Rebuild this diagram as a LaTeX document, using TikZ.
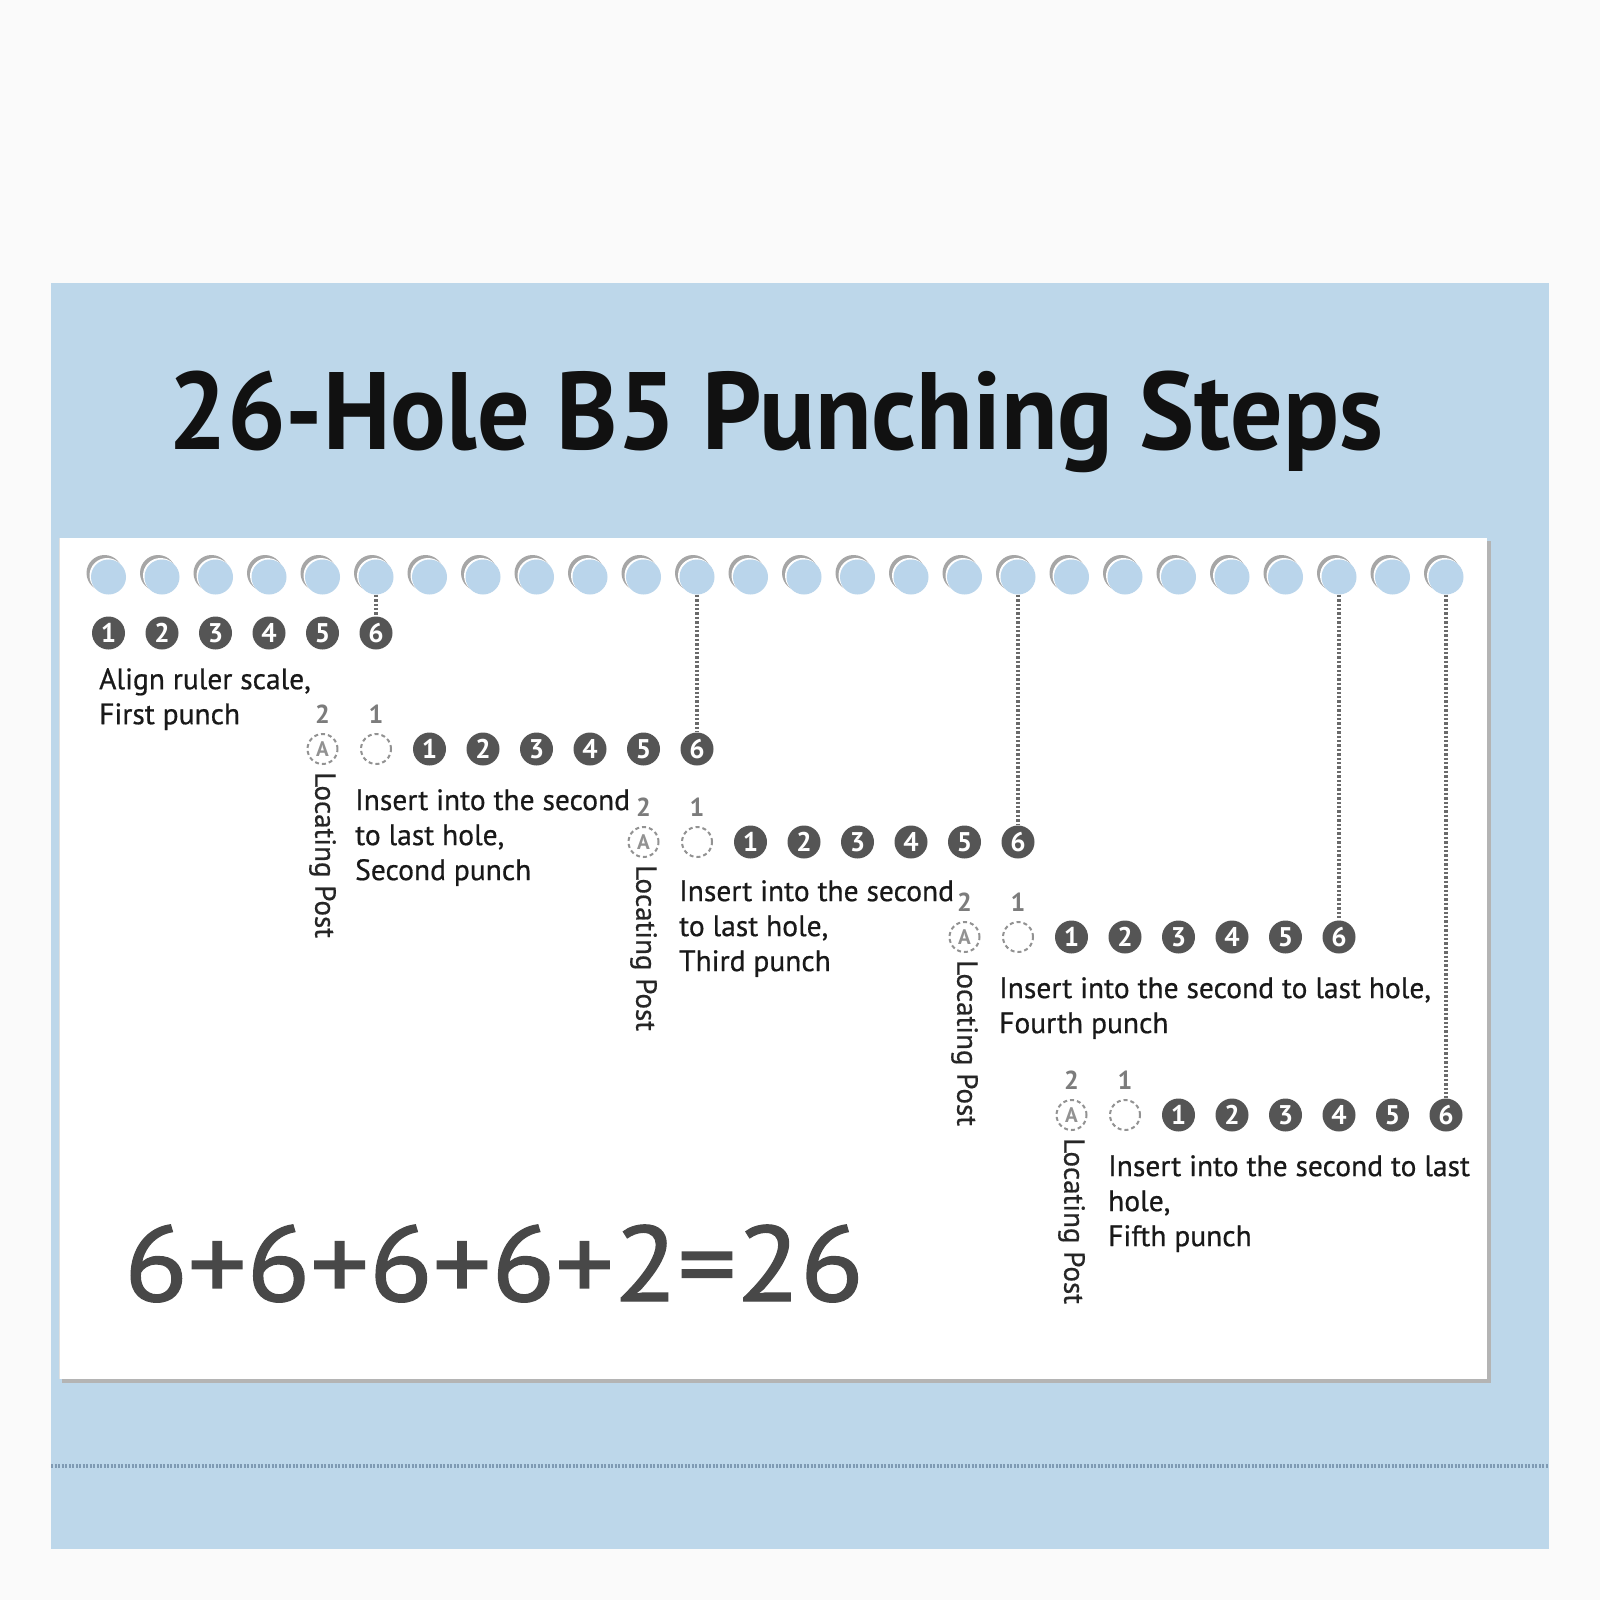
\documentclass[tikz,border=0pt]{standalone}
\usepackage{fontspec}
\setmainfont{PT Sans}
\newfontfamily\bodyfont[FakeBold=0.6]{PT Sans}
\newfontfamily\eqfont[FakeBold=1.2]{PT Sans}
\usetikzlibrary{calc}
\definecolor{pagebg}{HTML}{FAFAFA}
\definecolor{bgblue}{HTML}{BDD7EA}
\definecolor{holeblue}{HTML}{BAD5EB}
\definecolor{holeshadow}{HTML}{A6A6A6}
\definecolor{darkc}{HTML}{555555}
\definecolor{dashc}{HTML}{929292}
\definecolor{labc}{HTML}{7C7C7C}
\definecolor{eqc}{HTML}{484848}
\definecolor{cardshadow}{HTML}{B4B4B4}
\definecolor{dotc}{HTML}{6A6A6A}
\definecolor{bluedot}{HTML}{7F9AB3}
\definecolor{titlec}{HTML}{111111}
\begin{document}
\begin{tikzpicture}[x=1pt,y=-1pt,
  hole/.style={circle,fill=holeblue,minimum size=35pt,inner sep=0pt},
  numc/.style={circle,fill=darkc,text=white,minimum size=33pt,inner sep=0pt,font=\fontsize{27}{27}\selectfont\bfseries},
  postc/.style={circle,draw=dashc,dash pattern=on 4pt off 3pt,line width=2pt,minimum size=30pt,inner sep=0pt,text=dashc,font=\fontsize{21}{21}\selectfont\bfseries},
  ghostc/.style={circle,draw=dashc,dash pattern=on 4pt off 3pt,line width=2pt,minimum size=30pt,inner sep=0pt},
  lab/.style={inner sep=0pt,text=labc,font=\fontsize{26}{26}\selectfont\bfseries},
  postlab/.style={rotate=-90,anchor=west,inner sep=0pt,text=black!85,font=\fontsize{29}{29}\bodyfont},
  body/.style={anchor=north west,align=left,inner sep=0pt,text=black!90,font=\fontsize{29.5}{35}\bodyfont},
  dotline/.style={draw=dotc,line width=3.6pt,dash pattern=on 2.4pt off 2pt}
]
\useasboundingbox (0,0) rectangle (1600,1600);
\fill[pagebg] (0,0) rectangle (1600,1600);
% blue panel
\fill[bgblue] (51,283) rectangle (1549,1549);
\draw[bluedot,line width=3.4pt,dash pattern=on 2pt off 1.5pt] (51,1466) -- (1549,1466);
% card
\fill[cardshadow] (62,541) rectangle (1491,1383);
\fill[white] (59,538) rectangle (1487,1379);
\draw[black!12,line width=1pt] (59.5,538) -- (59.5,1379);
% title
\node[anchor=base west,inner sep=0pt,text=titlec,font=\fontsize{110}{110}\selectfont\bfseries] (title) at (168,449) {\scalebox{0.944}[1]{26-Hole B5 Punching Steps}};
% holes
\foreach \i in {1,...,26}{
  \fill[holeshadow] ({108.5+(\i-1)*53.5-4},573) circle (18);
  \fill[white] ({108.5+(\i-1)*53.5-1.5},575.5) circle (17.5);
  \node[hole] (h\i) at ({108.5+(\i-1)*53.5},577) {};
}
% row 1
\foreach \j in {1,...,6}{
  \node[numc] (n1-\j) at ({108.5+(\j-1)*53.5},633) {\j};
}
\node[body] (t1) at (99,668) {Align ruler scale,\\First punch};
% rows 2-5
\foreach \r/\s/\y in {2/7/749, 3/13/842, 4/19/937, 5/21/1115}{
  \node[postc] (a\r) at ({108.5+(\s-3)*53.5},\y) {A};
  \node[ghostc] (g\r) at ({108.5+(\s-2)*53.5},\y) {};
  \node[lab] (la\r) at ($(a\r)+(0,-35)$) {2};
  \node[lab] (lg\r) at ($(g\r)+(0,-35)$) {1};
  \node[postlab] (p\r) at ($(a\r.south)+(0,7)$) {Locating Post};
  \foreach \j in {1,...,6}{
    \node[numc] (n\r-\j) at ({108.5+(\s+\j-2)*53.5},\y) {\j};
  }
}
\node[body] (t2) at (355,789) {Insert into the second\\to last hole,\\Second punch};
\node[body] (t3) at (679,880) {Insert into the second\\to last hole,\\Third punch};
\node[body] (t4) at (999,977) {Insert into the second to last hole,\\Fourth punch};
\node[body] (t5) at (1108,1155) {Insert into the second to last\\hole,\\Fifth punch};
% dotted connectors
\draw[dotline] (h6.south) -- (n1-6.north);
\draw[dotline] (h12.south) -- (n2-6.north);
\draw[dotline] (h18.south) -- (n3-6.north);
\draw[dotline] (h24.south) -- (n4-6.north);
\draw[dotline] (h26.south) -- (n5-6.north);
% equation
\node[anchor=base west,inner sep=0pt,text=eqc,font=\fontsize{107}{107}\eqfont] (eq) at (124,1301) {\scalebox{1.09}[1]{6+6+6+6+2=26}};
\end{tikzpicture}
\end{document}
